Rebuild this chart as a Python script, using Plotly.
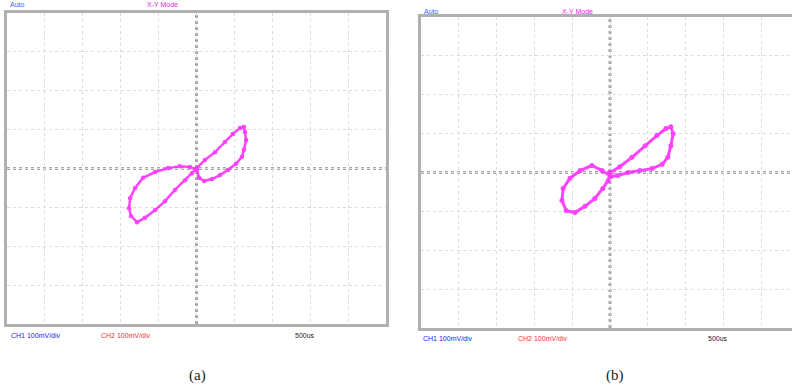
import plotly.graph_objects as go

# Panel (a) X-Y trace, in divisions (CH1 on x, CH2 on y)
a_x = [0.01, 0.22, 0.49, 0.75, 0.96, 1.15, 1.25, 1.28, 1.31, 1.25, 1.20, 1.04, 0.83, 0.62, 0.41, 0.20, 0.07, 0.01,
       -0.17, -0.44, -0.75, -1.09, -1.41, -1.62, -1.75, -1.78, -1.73, -1.57, -1.36, -1.09, -0.83, -0.57, -0.30, -0.12, 0.01]
a_y = [0.01, 0.22, 0.42, 0.68, 0.89, 1.04, 1.07, 0.94, 0.73, 0.48, 0.30, 0.12, -0.04, -0.17, -0.27, -0.32, -0.24, -0.04,
       0.04, 0.06, 0.01, -0.09, -0.24, -0.50, -0.76, -1.02, -1.22, -1.38, -1.27, -1.07, -0.84, -0.55, -0.30, -0.12, 0.01]

# Panel (b) X-Y trace
b_x = [0.0, 0.26, 0.58, 0.93, 1.24, 1.48, 1.61, 1.67, 1.61, 1.53, 1.38, 1.11, 0.79, 0.48, 0.21, 0.03,
       -0.21, -0.48, -0.79, -1.06, -1.24, -1.27, -1.16, -0.93, -0.66, -0.40, -0.19, -0.05, 0.0]
b_y = [0.0, 0.15, 0.39, 0.69, 0.95, 1.13, 1.18, 1.00, 0.69, 0.39, 0.21, 0.10, 0.05, 0.0, -0.08, -0.10,
       0.05, 0.18, 0.05, -0.15, -0.41, -0.72, -0.98, -1.03, -0.87, -0.67, -0.41, -0.21, 0.0]

mode_label = "X-Y Mode"
trig_label = "Auto"
ch1_label = "CH1 100mV/div"
ch2_label = "CH2 100mV/div"
time_label = "500us"
panel_labels = ["(a)", "(b)"]

W, H = 792, 391
MAG = "#ff22ff"

fig = go.Figure()
fig.add_trace(go.Scatter(x=a_x, y=a_y, mode="lines+markers", xaxis="x", yaxis="y",
                         line=dict(color=MAG, width=2.5), marker=dict(color=MAG, size=4.5),
                         opacity=0.85, showlegend=False))
fig.add_trace(go.Scatter(x=b_x, y=b_y, mode="lines+markers", xaxis="x2", yaxis="y2",
                         line=dict(color=MAG, width=3), marker=dict(color=MAG, size=5),
                         opacity=0.85, showlegend=False))

def px_x(p):
    return p / W

def px_y(p):
    return 1 - p / H

grid = dict(showgrid=True, gridcolor="#dcdcdc", griddash="dot", gridwidth=1, dtick=1,
            zeroline=False, showticklabels=False, ticks="", showline=True,
            linecolor="#b0b0b0", linewidth=3)

fig.update_layout(
    width=W, height=H, margin=dict(l=0, r=0, t=0, b=0),
    paper_bgcolor="white", plot_bgcolor="white",
    xaxis=dict(domain=[px_x(7), px_x(386)], range=[-5, 5], mirror=True, anchor="y", **grid),
    yaxis=dict(domain=[px_y(324), px_y(13)], range=[-4, 4], mirror=True, anchor="x", **grid),
    xaxis2=dict(domain=[px_x(421), 1], range=[-5, (792 - 610) / 37.8], mirror=True, anchor="y2", **grid),
    yaxis2=dict(domain=[px_y(328), px_y(17)], range=[-4, 4], mirror=False, anchor="x2", **grid),
)

# center cross lines (ticked look)
for xr, yr in (("x", "y"), ("x2", "y2")):
    fig.add_shape(type="line", xref=xr, yref=yr, x0=0, x1=0, y0=-4, y1=4,
                  line=dict(color="#a8a8a8", width=3, dash="dot"), layer="below")
    fig.add_shape(type="line", xref=xr, yref=yr, x0=-5, x1=5, y0=0, y1=0,
                  line=dict(color="#a8a8a8", width=3, dash="dot"), layer="below")

def ann(text, xp, yp, color, size=7, xanchor="left", family="Arial"):
    fig.add_annotation(text=text, x=px_x(xp), y=px_y(yp), xref="paper", yref="paper",
                       showarrow=False, xanchor=xanchor, yanchor="middle",
                       font=dict(color=color, size=size, family=family))

# panel (a) texts
ann(trig_label, 8, 5, "#3366ff")
ann(mode_label, 162, 5, "#ee22ee", xanchor="center")
ann(ch1_label, 9, 335, "#2222ee")
ann(ch2_label, 99, 335, "#ee3333")
ann(time_label, 293, 335, "#222222")
ann(panel_labels[0], 197, 375, "#222222", size=15, xanchor="center", family="Liberation Serif")

# panel (b) texts
ann(trig_label, 422, 11, "#3366ff")
ann(mode_label, 577, 11, "#ee22ee", xanchor="center")
ann(ch1_label, 421, 338, "#2222ee")
ann(ch2_label, 516, 338, "#ee3333")
ann(time_label, 706, 338, "#222222")
ann(panel_labels[1], 615, 375, "#222222", size=15, xanchor="center", family="Liberation Serif")

fig.write_html("out.html", config={"displayModeBar": False},
               post_script="document.body.style.margin='0px';document.body.style.overflow='hidden';")
